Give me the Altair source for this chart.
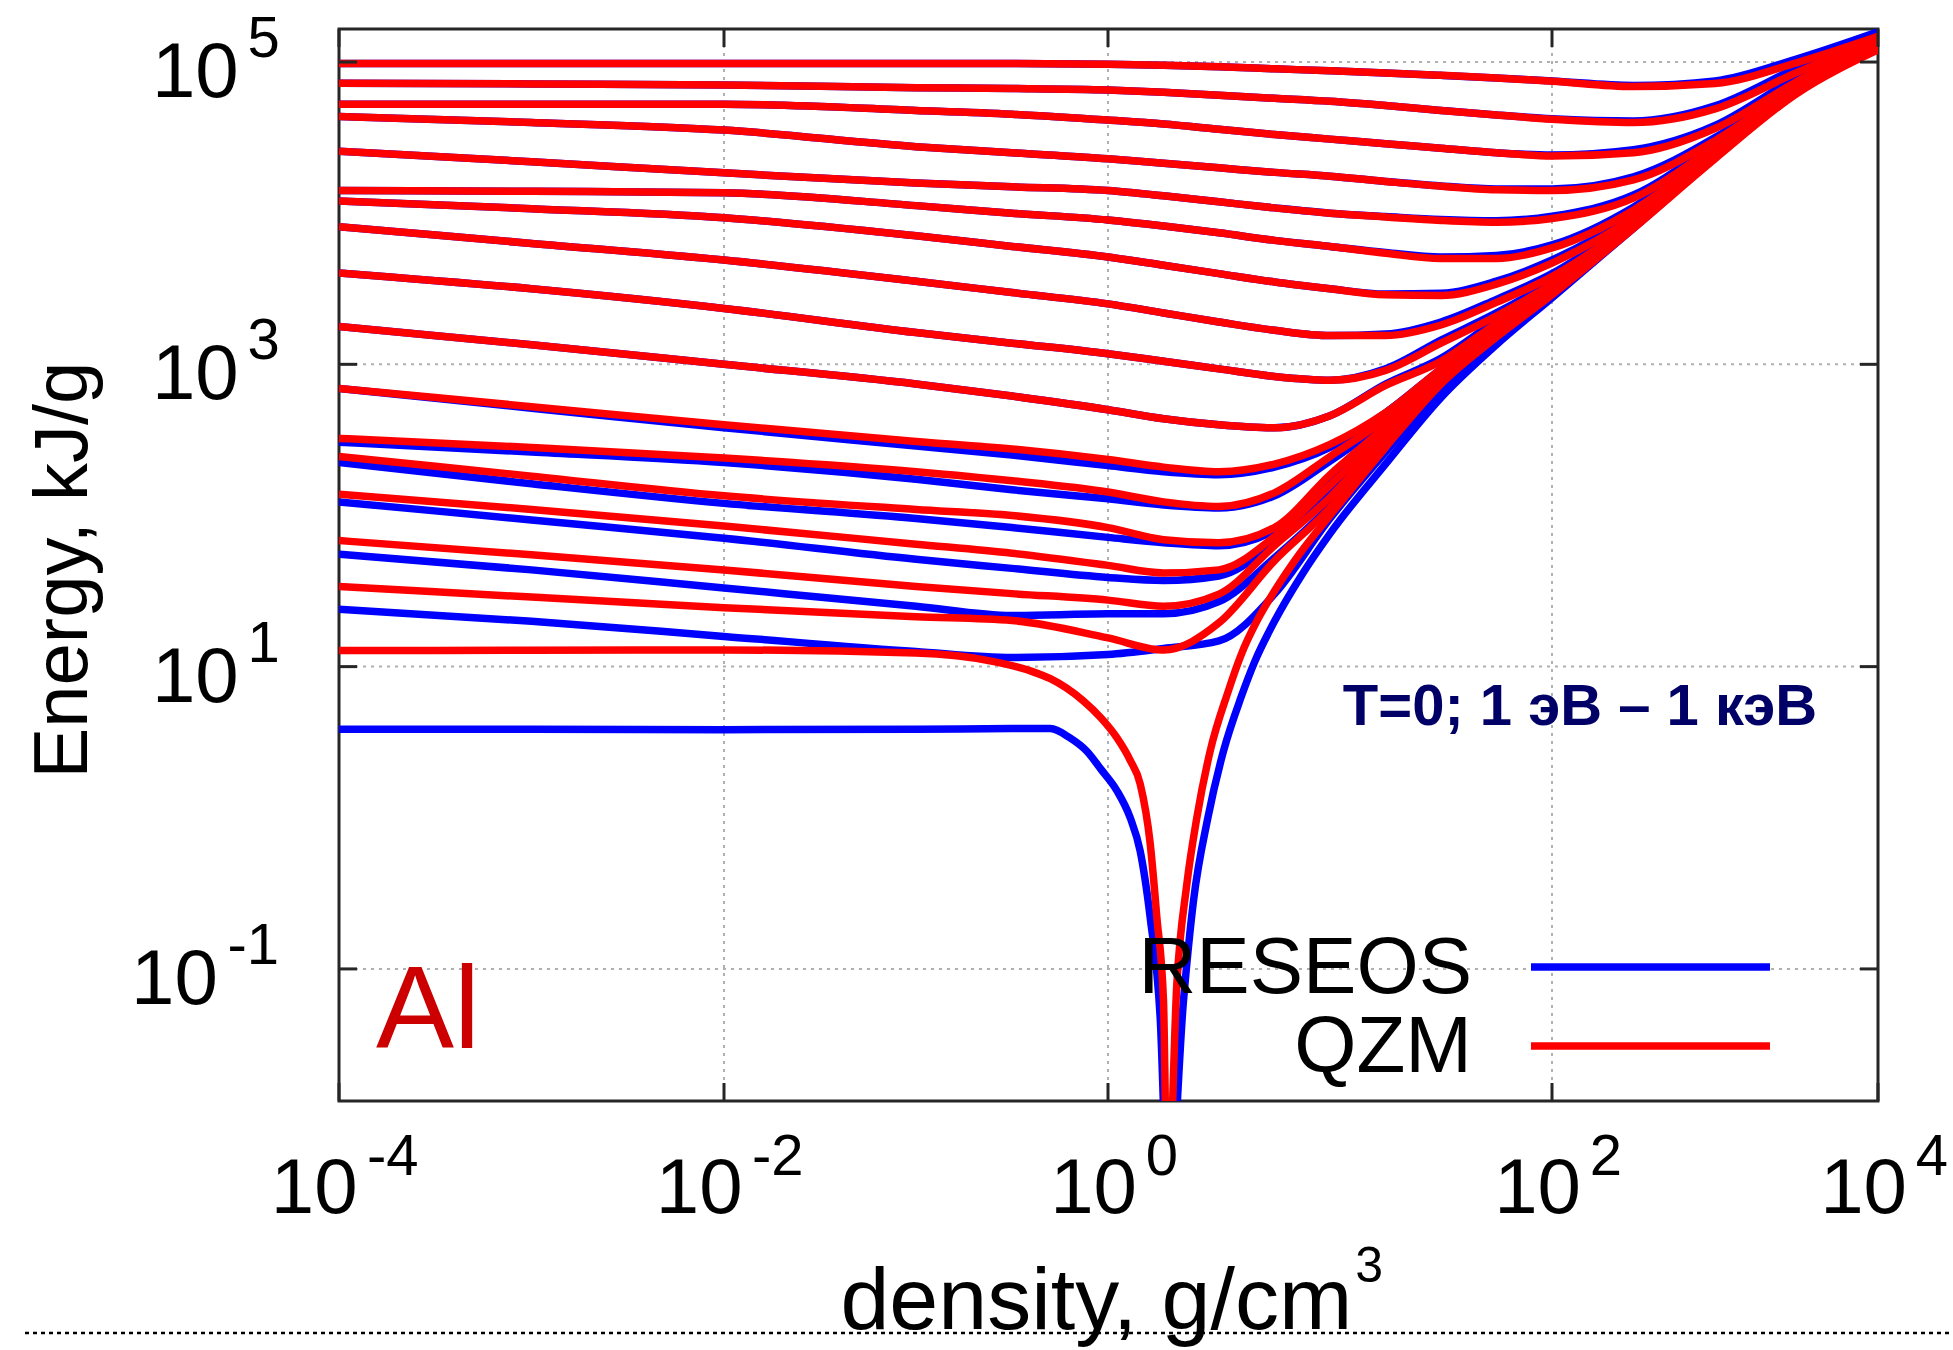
import altair as alt
import pandas as pd

FONT = "Liberation Sans"

# ---------------------------------------------------------------------------
# Data: Al specific energy E(rho) along isotherms, two equation-of-state models
# ---------------------------------------------------------------------------

# density grid shared by all isotherms, g/cm^3
DENSITY = [1e-4, 1e-3, 1e-2, 1e-1, 0.316, 1.0, 1.78, 3.16, 5.62, 10.0,
           17.8, 31.6, 56.2, 100.0, 316.0, 1000.0, 3160.0, 1e4]

# isotherms T = 1 eV ... 1 keV, lowest temperature first; values are log10(E, kJ/g)
QZM_ISOTHERMS = [
    [1.53, 1.46, 1.39, 1.33, 1.305, 1.19, 1.11, 1.29, 1.70, 2.05, 2.50, 2.90, 3.20, 3.47, 3.91, 4.37, 4.80, 5.10],
    [1.834, 1.74, 1.64, 1.53, 1.483, 1.44, 1.40, 1.48, 1.80, 2.12, 2.52, 2.91, 3.21, 3.47, 3.91, 4.37, 4.80, 5.10],
    [2.14, 2.04, 1.93, 1.81, 1.75, 1.67, 1.62, 1.64, 1.86, 2.20, 2.55, 2.92, 3.21, 3.47, 3.91, 4.37, 4.80, 5.10],
    [2.39, 2.26, 2.13, 2.04, 2.00, 1.92, 1.84, 1.82, 1.92, 2.27, 2.59, 2.93, 3.22, 3.48, 3.91, 4.37, 4.80, 5.10],
    [2.51, 2.45, 2.38, 2.29, 2.23, 2.155, 2.09, 2.06, 2.15, 2.39, 2.64, 2.95, 3.23, 3.48, 3.91, 4.37, 4.80, 5.10],
    [2.84, 2.72, 2.60, 2.49, 2.44, 2.37, 2.32, 2.29, 2.34, 2.47, 2.68, 2.97, 3.24, 3.49, 3.91, 4.37, 4.80, 5.10],
    [3.25, 3.13, 3.00, 2.87, 2.79, 2.70, 2.64, 2.60, 2.58, 2.66, 2.86, 3.02, 3.27, 3.50, 3.91, 4.37, 4.80, 5.11],
    [3.605, 3.50, 3.37, 3.21, 3.14, 3.07, 3.02, 2.97, 2.92, 2.895, 2.96, 3.14, 3.32, 3.53, 3.92, 4.37, 4.80, 5.11],
    [3.91, 3.80, 3.69, 3.55, 3.475, 3.40, 3.34, 3.28, 3.225, 3.19, 3.19, 3.26, 3.41, 3.58, 3.94, 4.38, 4.80, 5.12],
    [4.08, 4.03, 3.97, 3.85, 3.78, 3.71, 3.655, 3.60, 3.545, 3.50, 3.46, 3.455, 3.53, 3.67, 3.97, 4.39, 4.80, 5.12],
    [4.15, 4.145, 4.135, 4.05, 4.00, 3.955, 3.915, 3.87, 3.82, 3.78, 3.735, 3.70, 3.70, 3.77, 4.02, 4.41, 4.81, 5.13],
    [4.41, 4.34, 4.267, 4.20, 4.175, 4.15, 4.115, 4.075, 4.035, 4.00, 3.975, 3.952, 3.94, 3.965, 4.10, 4.44, 4.82, 5.13],
    [4.64, 4.60, 4.55, 4.44, 4.40, 4.36, 4.33, 4.30, 4.27, 4.245, 4.21, 4.178, 4.155, 4.15, 4.22, 4.48, 4.84, 5.14],
    [4.72, 4.72, 4.72, 4.68, 4.655, 4.616, 4.59, 4.555, 4.52, 4.49, 4.46, 4.43, 4.40, 4.378, 4.40, 4.56, 4.87, 5.15],
    [4.86, 4.855, 4.848, 4.83, 4.825, 4.815, 4.80, 4.78, 4.76, 4.74, 4.712, 4.68, 4.65, 4.622, 4.60, 4.69, 4.93, 5.16],
    [4.99, 4.99, 4.99, 4.99, 4.99, 4.985, 4.978, 4.968, 4.955, 4.942, 4.928, 4.912, 4.895, 4.873, 4.838, 4.858, 4.995, 5.17],
]

RESEOS_ISOTHERMS = [
    [1.38, 1.30, 1.20, 1.10, 1.06, 1.08, 1.12, 1.17, 1.48, 1.98, 2.42, 2.84, 3.17, 3.45, 3.91, 4.37, 4.81, 5.20],
    [1.744, 1.64, 1.52, 1.40, 1.338, 1.35, 1.35, 1.43, 1.72, 2.06, 2.46, 2.86, 3.18, 3.46, 3.91, 4.38, 4.82, 5.20],
    [2.09, 1.97, 1.85, 1.71, 1.65, 1.59, 1.57, 1.60, 1.82, 2.16, 2.50, 2.88, 3.20, 3.47, 3.92, 4.38, 4.82, 5.20],
    [2.35, 2.21, 2.08, 1.98, 1.92, 1.855, 1.82, 1.80, 1.90, 2.24, 2.56, 2.90, 3.22, 3.48, 3.92, 4.38, 4.82, 5.20],
    [2.485, 2.42, 2.35, 2.24, 2.17, 2.11, 2.07, 2.05, 2.13, 2.36, 2.62, 2.93, 3.24, 3.49, 3.93, 4.39, 4.83, 5.20],
    [2.84, 2.71, 2.58, 2.46, 2.40, 2.33, 2.29, 2.27, 2.32, 2.45, 2.68, 2.97, 3.25, 3.50, 3.93, 4.39, 4.83, 5.20],
    [3.25, 3.13, 3.00, 2.87, 2.79, 2.70, 2.64, 2.60, 2.58, 2.66, 2.87, 3.04, 3.29, 3.52, 3.93, 4.39, 4.83, 5.20],
    [3.605, 3.50, 3.37, 3.21, 3.14, 3.07, 3.02, 2.97, 2.92, 2.895, 2.97, 3.16, 3.34, 3.55, 3.94, 4.39, 4.83, 5.20],
    [3.91, 3.80, 3.69, 3.55, 3.475, 3.40, 3.34, 3.28, 3.225, 3.19, 3.20, 3.28, 3.43, 3.60, 3.96, 4.40, 4.83, 5.20],
    [4.08, 4.03, 3.97, 3.85, 3.78, 3.71, 3.655, 3.60, 3.545, 3.50, 3.465, 3.47, 3.55, 3.69, 3.99, 4.41, 4.83, 5.20],
    [4.15, 4.145, 4.135, 4.05, 4.00, 3.955, 3.915, 3.87, 3.82, 3.78, 3.74, 3.71, 3.72, 3.79, 4.04, 4.43, 4.84, 5.20],
    [4.41, 4.34, 4.267, 4.20, 4.175, 4.15, 4.115, 4.075, 4.035, 4.00, 3.978, 3.958, 3.95, 3.98, 4.12, 4.46, 4.85, 5.20],
    [4.64, 4.60, 4.55, 4.44, 4.40, 4.36, 4.33, 4.30, 4.27, 4.245, 4.21, 4.18, 4.16, 4.16, 4.24, 4.50, 4.87, 5.20],
    [4.72, 4.72, 4.72, 4.68, 4.655, 4.616, 4.59, 4.555, 4.52, 4.49, 4.46, 4.43, 4.40, 4.385, 4.42, 4.58, 4.90, 5.20],
    [4.86, 4.855, 4.848, 4.83, 4.825, 4.815, 4.80, 4.78, 4.76, 4.74, 4.712, 4.68, 4.65, 4.625, 4.61, 4.71, 4.96, 5.20],
    [4.99, 4.99, 4.99, 4.99, 4.99, 4.985, 4.978, 4.968, 4.955, 4.942, 4.928, 4.912, 4.895, 4.875, 4.845, 4.875, 5.02, 5.20],
]

# cold curves (T = 0): density, g/cm^3 and log10(E, kJ/g)
QZM_COLD_DENSITY = [1e-4, 1e-3, 1e-2, 0.1, 0.251, 0.398, 0.501, 0.741, 0.920, 1.096, 1.259,
                    1.396, 1.549, 1.660, 1.778, 1.854, 2.042, 2.265, 2.512, 2.884, 3.467,
                    3.981, 4.677, 5.623, 7.413, 10.0, 17.78, 31.62, 56.23, 100.0, 316.2,
                    1000.0, 3162.0, 1e4]
QZM_COLD_LOG_E = [1.106, 1.108, 1.11, 1.09, 1.035, 0.97, 0.92, 0.775, 0.66, 0.53, 0.38,
                  0.225, -0.17, -0.66, -1.21, -2.6, -1.1, -0.44, 0.0, 0.44, 0.83,
                  1.08, 1.30, 1.50, 1.76, 2.0, 2.45, 2.87, 3.18, 3.46, 3.90,
                  4.36, 4.79, 5.08]

RESEOS_COLD_DENSITY = [1e-4, 1e-3, 1e-2, 0.1, 0.316, 0.501, 0.631, 0.776, 0.920, 1.096, 1.259,
                       1.396, 1.549, 1.718, 1.871, 2.188, 2.427, 2.818, 3.311, 3.981, 4.571,
                       5.623, 7.413, 10.0, 17.78, 31.62, 56.23, 100.0, 316.2, 1000.0, 3162.0,
                       1e4]
RESEOS_COLD_LOG_E = [0.586, 0.585, 0.583, 0.585, 0.59, 0.59, 0.53, 0.44, 0.32, 0.18, 0.0,
                     -0.22, -0.66, -1.32, -2.6, -1.21, -0.55, 0.0, 0.44, 0.80, 1.03,
                     1.30, 1.60, 1.88, 2.34, 2.78, 3.13, 3.44, 3.90, 4.37, 4.81,
                     5.19]

# axis ticks
X_TICKS = [1e-4, 1e-2, 1.0, 1e2, 1e4]
X_TICK_EXP = ["-4", "-2", "0", "2", "4"]
Y_TICKS = [1e-1, 1e1, 1e3, 1e5]
Y_TICK_EXP = ["-1", "1", "3", "5"]

COLORS = {"RESEOS": "#0000ff", "QZM": "#ff0000"}

# ---------------------------------------------------------------------------
# Layout
# ---------------------------------------------------------------------------
W, H = 1539, 1072
FRAME = "#262626"
GRID = "#b0b0b0"
LINE_W = 7.5

rows = []


def add_curve(model, name, dens, log_e):
    for d, le in zip(dens, log_e):
        rows.append({"model": model, "curve": name, "rho": d, "energy": 10 ** le})


for i, le in enumerate(RESEOS_ISOTHERMS):
    add_curve("RESEOS", f"RESEOS-{i}", DENSITY, le)
add_curve("RESEOS", "RESEOS-cold", RESEOS_COLD_DENSITY, RESEOS_COLD_LOG_E)
for i, le in enumerate(QZM_ISOTHERMS):
    add_curve("QZM", f"QZM-{i}", DENSITY, le)
add_curve("QZM", "QZM-cold", QZM_COLD_DENSITY, QZM_COLD_LOG_E)
curves_df = pd.DataFrame(rows)

# the density axis has uneven decades, so the log scale is piecewise
x_scale = alt.Scale(type="log", domain=X_TICKS, range=[0, 385, 769, 1213, W], nice=False)
y_scale = alt.Scale(type="log", domain=[0.01337, 165400], nice=False)


def xenc(field):
    return alt.X(f"{field}:Q", scale=x_scale, axis=None)


def yenc(field):
    return alt.Y(f"{field}:Q", scale=y_scale, axis=None)


xt = pd.DataFrame({"v": X_TICKS})
yt = pd.DataFrame({"v": Y_TICKS})

grid_v = alt.Chart(pd.DataFrame({"v": X_TICKS[1:-1]})).mark_rule(
    color=GRID, strokeWidth=2, strokeDash=[3, 5]
).encode(x=xenc("v"), y=alt.value(0), y2=alt.value(H))
grid_h = alt.Chart(yt).mark_rule(
    color=GRID, strokeWidth=2, strokeDash=[3, 5]
).encode(y=yenc("v"), x=alt.value(0), x2=alt.value(W))

TICK = 18
ticks = [
    alt.Chart(xt).mark_rule(color=FRAME, strokeWidth=3).encode(
        x=xenc("v"), y=alt.value(H), y2=alt.value(H - TICK)),
    alt.Chart(xt).mark_rule(color=FRAME, strokeWidth=3).encode(
        x=xenc("v"), y=alt.value(0), y2=alt.value(TICK)),
    alt.Chart(yt).mark_rule(color=FRAME, strokeWidth=3).encode(
        y=yenc("v"), x=alt.value(0), x2=alt.value(TICK)),
    alt.Chart(yt).mark_rule(color=FRAME, strokeWidth=3).encode(
        y=yenc("v"), x=alt.value(W - TICK), x2=alt.value(W)),
]


def curve_layer(model):
    return alt.Chart(curves_df).transform_filter(
        alt.datum.model == model
    ).mark_line(
        color=COLORS[model], strokeWidth=LINE_W, interpolate="monotone",
        clip=True, strokeJoin="round"
    ).encode(x=xenc("rho"), y=yenc("energy"), detail="curve:N")


# tick labels "10" with a raised exponent
S10, SEXP, STRETCH = 78, 58, 1.08


def adv(s, size):
    return sum(0.333 if c == "-" else 0.556 for c in s) * size * STRETCH


labels = []
for v, e in zip(Y_TICKS, Y_TICK_EXP):
    one = pd.DataFrame({"v": [v]})
    we, wt = adv(e, SEXP), adv("10", S10)
    right = -58
    labels.append(alt.Chart(one).mark_text(
        text="10", font=FONT, fontSize=S10, align="center", baseline="alphabetic",
        x=right - we - 4 - wt / 2, dy=35, color="black"
    ).encode(y=yenc("v")))
    labels.append(alt.Chart(one).mark_text(
        text=e, font=FONT, fontSize=SEXP, align="center", baseline="alphabetic",
        x=right - we / 2, dy=-5, color="black"
    ).encode(y=yenc("v")))

for v, e in zip(X_TICKS, X_TICK_EXP):
    one = pd.DataFrame({"v": [v]})
    we, wt = adv(e, SEXP), adv("10", S10)
    left = 5 - (wt + 4 + we) / 2
    labels.append(alt.Chart(one).mark_text(
        text="10", font=FONT, fontSize=S10, align="center", baseline="alphabetic",
        y=H + 112, dx=left + wt / 2, color="black"
    ).encode(x=xenc("v")))
    labels.append(alt.Chart(one).mark_text(
        text=e, font=FONT, fontSize=SEXP, align="center", baseline="alphabetic",
        y=H + 74, dx=left + wt + 4 + we / 2, color="black"
    ).encode(x=xenc("v")))

one_row = pd.DataFrame({"k": [0]})


def text_at(txt, px, py, **kw):
    return alt.Chart(one_row).mark_text(font=FONT, baseline="alphabetic", **kw).encode(
        x=alt.value(px), y=alt.value(py), text=alt.value(txt))


def rule_at(x1, x2, y, **kw):
    return alt.Chart(one_row).mark_rule(**kw).encode(
        x=alt.value(x1), x2=alt.value(x2), y=alt.value(y))


# axis titles
TITLE_S, TITLE_EXP_S = 88, 50
title_w = 5.891 * TITLE_S
title_left = W / 2 - (title_w + 3 + 0.556 * TITLE_EXP_S) / 2
decor = [
    rule_at(-314, 1614, H + 232, color="black", strokeWidth=2.5, strokeDash=[4, 4]),
    text_at("Energy, kJ/g", -252, 541, fontSize=76, angle=270, align="center", color="black"),
    text_at("density, g/cm", title_left + title_w, H + 228, fontSize=TITLE_S, align="right",
            color="black"),
    text_at("3", title_left + title_w + 3, H + 181, fontSize=TITLE_EXP_S, align="left",
            color="black"),
    # in-plot annotations
    text_at("Al", 37, 1019, fontSize=117, align="left", color="#cc0000"),
    text_at("T=0; 1 эВ – 1 кэВ", 1241, 696, fontSize=58, fontWeight="bold", align="center",
            color="#000066"),
    # key
    text_at("RESEOS", 1133, 964, fontSize=80, align="right", color="black"),
    text_at("QZM", 1133, 1043, fontSize=80, align="right", color="black"),
    rule_at(1192, 1431, 938, color=COLORS["RESEOS"], strokeWidth=LINE_W),
    rule_at(1192, 1431, 1017, color=COLORS["QZM"], strokeWidth=LINE_W),
]

chart = alt.layer(
    grid_v, grid_h,
    curve_layer("RESEOS"), curve_layer("QZM"),
    *ticks, *labels, *decor,
).properties(
    width=W, height=H,
    padding={"left": 339, "top": 29, "right": 75, "bottom": 249},
    autosize=alt.AutoSizeParams(type="none"),
    background="white",
).configure_view(stroke=FRAME, strokeWidth=3)

chart.save("out.html", embed_options={"renderer": "svg", "actions": False})
